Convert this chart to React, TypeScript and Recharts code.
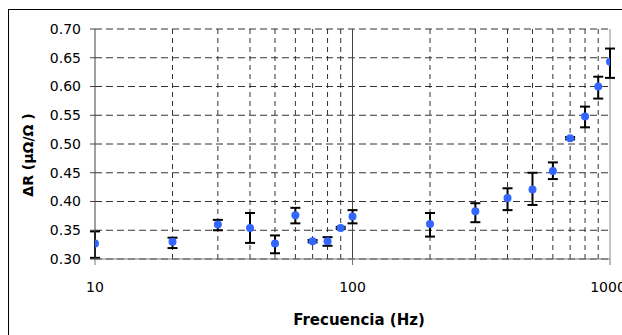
import React from 'react';
import {
  ScatterChart,
  Scatter,
  XAxis,
  YAxis,
  CartesianGrid,
  ReferenceLine,
  ErrorBar,
  Label,
} from 'recharts';

const freq = [10, 20, 30, 40, 50, 60, 70, 80, 90, 100, 200, 300, 400, 500, 600, 700, 800, 900, 1000];
const deltaR = [0.327, 0.33, 0.36, 0.354, 0.327, 0.376, 0.331, 0.331, 0.354, 0.374, 0.361, 0.383, 0.406, 0.421, 0.453, 0.51, 0.548, 0.6, 0.643];
const errLow = [0.302, 0.319, 0.35, 0.328, 0.31, 0.362, 0.329, 0.323, 0.352, 0.362, 0.339, 0.364, 0.385, 0.394, 0.439, 0.508, 0.529, 0.579, 0.615];
const errHigh = [0.348, 0.337, 0.368, 0.38, 0.341, 0.389, 0.333, 0.338, 0.356, 0.385, 0.38, 0.397, 0.423, 0.45, 0.468, 0.512, 0.565, 0.617, 0.666];

const xTicks = [10, 100, 1000];
const xMinor = [20, 30, 40, 50, 60, 70, 80, 90, 200, 300, 400, 500, 600, 700, 800, 900];
const yTicks = [0.3, 0.35, 0.4, 0.45, 0.5, 0.55, 0.6, 0.65, 0.7];

const data = freq.map((f, i) => ({
  f,
  r: deltaR[i],
  err: [deltaR[i] - errLow[i], errHigh[i] - deltaR[i]],
}));

const font = '"DejaVu Sans", sans-serif';

export default function App() {
  return (
    <div style={{ position: 'fixed', left: 0, top: 0, width: 622, height: 335, background: '#fff' }}>
      <div
        style={{
          position: 'absolute',
          left: 8,
          top: 9,
          width: 700,
          height: 400,
          borderLeft: '1px solid #000',
          borderTop: '1px solid #000',
        }}
      />
      <ScatterChart
        width={622}
        height={335}
        margin={{ top: 29, right: 12, left: 35, bottom: 36 }}
        style={{ position: 'absolute', left: 0, top: 0 }}
      >
        <CartesianGrid vertical={false} stroke="#333" strokeDasharray="7 4" />
        {xMinor.map((v) => (
          <ReferenceLine key={v} x={v} stroke="#333" strokeDasharray="5 4" />
        ))}
        <ReferenceLine x={100} stroke="#444" />
        <ReferenceLine x={1000} stroke="#888" />
        <XAxis
          type="number"
          dataKey="f"
          scale="log"
          domain={[10, 1000]}
          ticks={xTicks}
          allowDataOverflow
          height={40}
          tickSize={6}
          tickMargin={17}
          stroke="#777"
          tick={{ fill: '#000', fontSize: 14, fontFamily: font }}
        >
          <Label
            content={() => (
              <text x={359} y={325} textAnchor="middle" fontFamily={font} fontSize={15} fontWeight="bold" fill="#000">
                Frecuencia (Hz)
              </text>
            )}
          />
        </XAxis>
        <YAxis
          type="number"
          dataKey="r"
          domain={[0.3, 0.7]}
          ticks={yTicks}
          width={60}
          tickSize={5}
          tickMargin={9}
          stroke="#444"
          tickFormatter={(v: number) => v.toFixed(2)}
          tick={{ fill: '#000', fontSize: 14, fontFamily: font }}
        >
          <Label
            content={() => (
              <text
                x={28}
                y={155}
                transform="rotate(-90 28 155)"
                textAnchor="middle"
                dominantBaseline="central"
                fontFamily={font}
                fontSize={14}
                fontWeight="bold"
                fill="#000"
              >
                ΔR (μΩ/Ω )
              </text>
            )}
          />
        </YAxis>
        <Scatter data={data} fill="#3366ff" isAnimationActive={false} shape={(p: any) => <circle cx={p.cx} cy={p.cy} r={4} fill="#3366ff" />}>
          <ErrorBar dataKey="err" direction="y" width={5} stroke="#000" strokeWidth={2} />
        </Scatter>
      </ScatterChart>
    </div>
  );
}
